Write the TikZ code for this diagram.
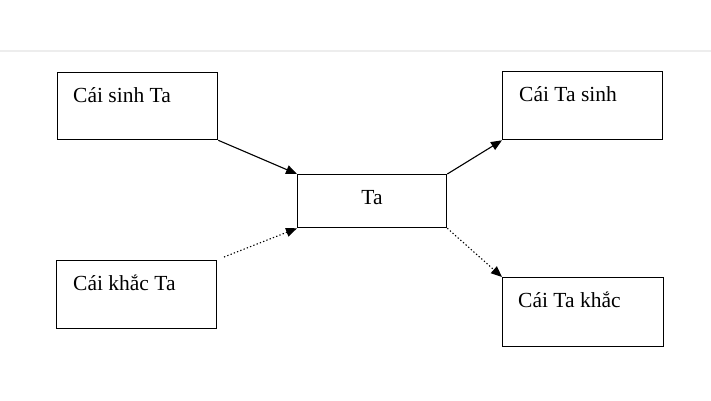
\documentclass[tikz,border=0pt]{standalone}
\usepackage{fontspec}
\setmainfont{Liberation Serif}
\usetikzlibrary{arrows.meta}
\begin{document}
\begin{tikzpicture}[x=1pt,y=-1pt,
  box/.style={draw=black,line width=1.3pt,inner sep=0pt,anchor=north west},
  lbl/.style={anchor=base west,inner sep=0pt,font=\fontsize{21.5}{25}\selectfont},
  conn/.style={line width=1.1pt,-{Triangle[length=11pt,width=9pt]}},
  dotconn/.style={conn,dash pattern=on 1.3pt off 2.2pt}]
\useasboundingbox (0,0) rectangle (711,400);
\fill[white] (0,0) rectangle (711,400);
\draw[black!7,line width=1.5pt] (0,51) -- (711,51);
% boxes
\node[box,minimum width=160pt,minimum height=67pt] (A) at (57,72) {};
\node[box,minimum width=160pt,minimum height=68pt] (B) at (56,260) {};
\node[box,minimum width=149pt,minimum height=53pt] (T) at (297,174) {};
\node[box,minimum width=160pt,minimum height=68pt] (C) at (502,71) {};
\node[box,minimum width=161pt,minimum height=69pt] (D) at (502,277) {};
% labels
\node[lbl] (tA) at (73,102) {Cái sinh Ta};
\node[lbl] (tB) at (73,290) {Cái khắc Ta};
\node[lbl,anchor=base] (tT) at (372,204) {Ta};
\node[lbl] (tC) at (519,101) {Cái Ta sinh};
\node[lbl] (tD) at (518,307) {Cái Ta khắc};
% connectors
\coordinate (bs) at (224,257);
\draw[conn] (A.south east) -- (T.north west);
\draw[dotconn] (bs) -- (T.south west);
\draw[conn] (T.north east) -- (C.south west);
\draw[dotconn] (T.south east) -- (D.north west);
\end{tikzpicture}
\end{document}
